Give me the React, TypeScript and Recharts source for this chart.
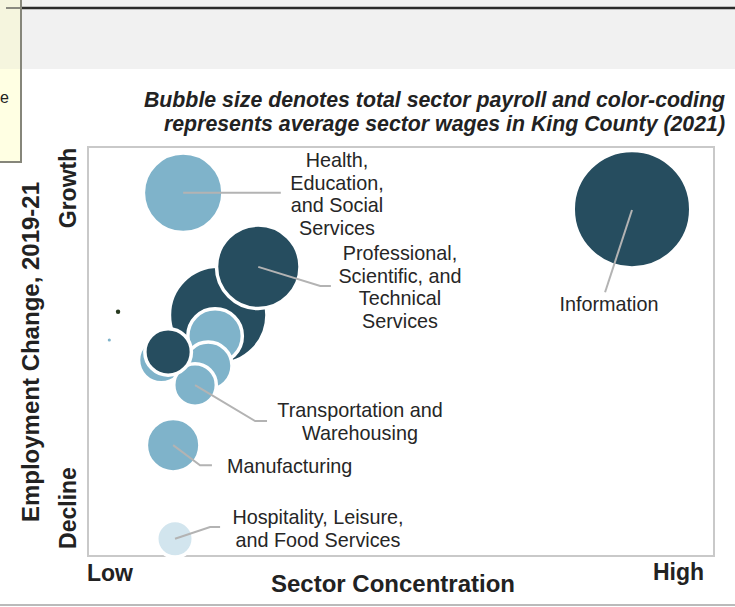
import React from 'react';
import { ScatterChart, Scatter, XAxis, YAxis, ZAxis, ReferenceArea } from 'recharts';

// ---- Data (x: sector concentration index, y: employment change index, z: payroll, tier: wage level) ----
const sectorNames = [
  'Wholesale and Retail Trade',
  'Professional, Scientific, and Technical Services',
  'Construction',
  'Other Services',
  'Public Administration',
  'Transportation and Warehousing',
  'Finance and Insurance',
  'Health, Education, and Social Services',
  'Manufacturing',
  'Hospitality, Leisure, and Food Services',
  'Information',
  'Utilities',
  'Agriculture, Forestry, and Fishing',
];
const concentration = [20.8, 27.2, 20.3, 11.7, 19.2, 17.1, 12.8, 15.2, 13.6, 13.9, 86.9, 4.8, 3.4];
const employmentChange = [58.9, 70.7, 53.8, 47.9, 46.5, 41.8, 49.9, 88.8, 27.1, 4.2, 84.8, 59.7, 52.8];
const payroll = [27.2, 19.7, 8.0, 5.4, 6.0, 4.7, 5.7, 17.8, 7.7, 3.35, 40, 0.06, 0.03];
const wageTier = ['high', 'high', 'mid', 'mid', 'mid', 'mid', 'high', 'mid', 'mid', 'low', 'high', 'other', 'mid'];

// leader lines (data units): polylines from bubble centre to label
const leaderLines: { x: number; y: number }[][] = [
  [{ x: 15.2, y: 88.8 }, { x: 30.8, y: 88.8 }],
  [{ x: 27.2, y: 70.7 }, { x: 37.1, y: 66.0 }, { x: 38.8, y: 66.0 }],
  [{ x: 86.9, y: 84.6 }, { x: 82.6, y: 64.5 }],
  [{ x: 17.1, y: 41.8 }, { x: 26.7, y: 33.0 }, { x: 28.6, y: 33.0 }],
  [{ x: 13.6, y: 27.1 }, { x: 17.9, y: 22.2 }, { x: 19.8, y: 22.2 }],
  [{ x: 13.9, y: 4.2 }, { x: 19.5, y: 7.1 }, { x: 21.1, y: 7.1 }],
];

const points = sectorNames.map((name, i) => ({
  name,
  x: concentration[i],
  y: employmentChange[i],
  z: payroll[i],
  tier: wageTier[i],
}));

const TIER_COLORS: Record<string, string> = {
  high: '#264D5F',
  mid: '#7FB3CA',
  low: '#D2E5EE',
  other: '#27391F',
};

const FONT = '"Liberation Sans", Arial, Helvetica, sans-serif';

const Bubble = (props: any) => {
  const { cx, cy, payload } = props;
  const r = props.width ? props.width / 2 : Math.sqrt((props.size || 0) / Math.PI);
  const ring = r > 5 ? 3.5 : 0;
  return (
    <circle
      cx={cx}
      cy={cy}
      r={r + ring / 2}
      fill={TIER_COLORS[payload.tier]}
      stroke={ring ? '#ffffff' : 'none'}
      strokeWidth={ring}
    />
  );
};

const NoShape = () => <g />;

const annoStyle = { fontFamily: FONT, fontSize: 19.8, fill: '#262626' } as const;
const boldStyle = { fontFamily: FONT, fontSize: 23, fontWeight: 700, fill: '#222222' } as const;
const titleStyle = { fontFamily: FONT, fontSize: 21.3, fontWeight: 700, fontStyle: 'italic', fill: '#222' } as const;

const MultiLine = ({ x, y, lines, anchor = 'middle' }: { x: number; y: number; lines: string[]; anchor?: string }) => (
  <>
    {lines.map((l, i) => (
      <text key={i} x={x} y={y + i * 22.7} textAnchor={anchor as any} dominantBaseline="central" style={annoStyle}>
        {l}
      </text>
    ))}
  </>
);

export default function App() {
  return (
    <div style={{ position: 'fixed', left: 0, top: 0, width: 735, height: 607, background: '#ffffff', overflow: 'hidden' }}>
      {/* page frame */}
      <svg width={735} height={607} style={{ position: 'absolute', left: 0, top: 0 }}>
        <rect x={0} y={0} width={735} height={69} fill="#f1f1f1" />
        <rect x={-2} y={-2} width={23} height={164} fill="#ffffe3" stroke="#86867a" strokeWidth={2} />
        <rect x={0} y={0} width={20} height={69} fill="#f5f5de" />
        <line x1={6} y1={8} x2={20} y2={8} stroke="#8a8a80" strokeWidth={2} />
        <line x1={22} y1={8} x2={735} y2={8} stroke="#2a2a2a" strokeWidth={2.5} />
        <text x={0} y={97} textAnchor="start" dominantBaseline="central" style={{ fontFamily: FONT, fontSize: 16, fill: '#222' }}>
          e
        </text>
        <line x1={0} y1={605} x2={735} y2={605} stroke="#a3a3a3" strokeWidth={1.5} />
      </svg>

      <div style={{ position: 'absolute', left: 0, top: 0 }}>
        <ScatterChart width={735} height={607} margin={{ top: 147, right: 21, bottom: 51, left: 88 }}>
          <XAxis type="number" dataKey="x" domain={[0, 100]} hide />
          <YAxis type="number" dataKey="y" domain={[0, 100]} hide />
          <ZAxis type="number" dataKey="z" domain={[0, 40]} range={[0, Math.PI * 57 * 57]} />
          <ReferenceArea x1={0} x2={100} y1={0} y2={100} fill="#ffffff" fillOpacity={0} stroke="#c9c9c9" strokeWidth={2} />
          <Scatter data={points} shape={Bubble} isAnimationActive={false} />
          {leaderLines.map((pl, i) => (
            <Scatter
              key={i}
              data={pl}
              shape={NoShape}
              line={{ stroke: '#b3b3b3', strokeWidth: 2 }}
              lineType="joint"
              isAnimationActive={false}
            />
          ))}
        </ScatterChart>
      </div>

      {/* text overlay */}
      <svg width={735} height={607} style={{ position: 'absolute', left: 0, top: 0, pointerEvents: 'none' }}>
        <text x={725} y={100} textAnchor="end" dominantBaseline="central" style={titleStyle}>
          Bubble size denotes total sector payroll and color-coding
        </text>
        <text x={725} y={124} textAnchor="end" dominantBaseline="central" style={titleStyle}>
          represents average sector wages in King County (2021)
        </text>

        <MultiLine x={337} y={160} lines={['Health,', 'Education,', 'and Social', 'Services']} />
        <MultiLine x={400} y={253} lines={['Professional,', 'Scientific, and', 'Technical', 'Services']} />
        <MultiLine x={609} y={304} lines={['Information']} />
        <MultiLine x={360} y={410} lines={['Transportation and', 'Warehousing']} />
        <MultiLine x={227} y={466} lines={['Manufacturing']} anchor="start" />
        <MultiLine x={318} y={517} lines={['Hospitality, Leisure,', 'and Food Services']} />

        <text x={87} y={573} dominantBaseline="central" style={boldStyle}>Low</text>
        <text x={704} y={572} textAnchor="end" dominantBaseline="central" style={boldStyle}>High</text>
        <text x={393} y={583} textAnchor="middle" dominantBaseline="central" style={{ ...boldStyle, fontSize: 24 }}>
          Sector Concentration
        </text>
        <text transform="translate(30,352) rotate(-90)" textAnchor="middle" dominantBaseline="central" style={{ ...boldStyle, fontSize: 24 }}>
          Employment Change, 2019-21
        </text>
        <text transform="translate(68,188) rotate(-90)" textAnchor="middle" dominantBaseline="central" style={boldStyle}>
          Growth
        </text>
        <text transform="translate(68,508) rotate(-90)" textAnchor="middle" dominantBaseline="central" style={boldStyle}>
          Decline
        </text>
      </svg>
    </div>
  );
}
